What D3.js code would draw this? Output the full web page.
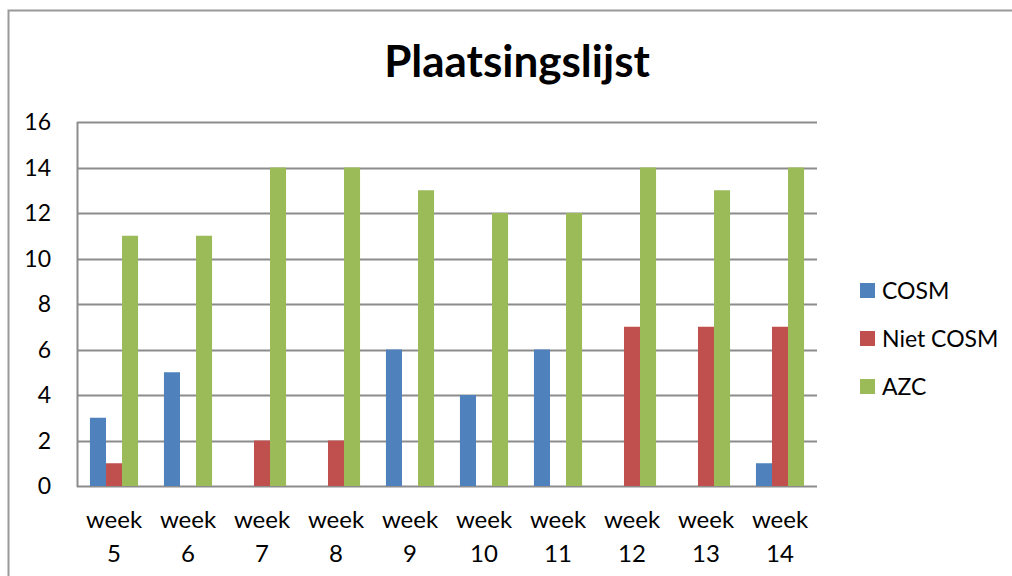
<!DOCTYPE html>
<html>
<head>
<meta charset="utf-8">
<script src="https://cdn.jsdelivr.net/npm/d3@7"></script>
<style>
  body { margin: 0; background: #fff; }
  text { font-family: Lato, "Open Sans", sans-serif; fill: #000; }
</style>
</head>
<body>
<svg id="chart" width="1012" height="576"></svg>
<script>
const weeks = ["week 5", "week 6", "week 7", "week 8", "week 9", "week 10", "week 11", "week 12", "week 13", "week 14"];
const seriesNames = ["COSM", "Niet COSM", "AZC"];
const cosm = [3, 5, 0, 0, 6, 4, 6, 0, 0, 1];
const nietCosm = [1, 0, 2, 2, 0, 0, 0, 7, 7, 7];
const azc = [11, 11, 14, 14, 13, 12, 12, 14, 13, 14];
const yTicks = [0, 2, 4, 6, 8, 10, 12, 14, 16];
const colors = ["#4F81BD", "#C0504D", "#9BBB59"];

const svg = d3.select("#chart");
const plot = { left: 77, right: 817, top: 122, bottom: 486 };

// outer chart frame
svg.append("rect")
  .attr("x", 8.5).attr("y", 10.5)
  .attr("width", 1100).attr("height", 700)
  .attr("fill", "none").attr("stroke", "#999").attr("stroke-width", 2);

svg.append("text")
  .attr("x", 517).attr("y", 77)
  .attr("text-anchor", "middle")
  .attr("font-size", 44).attr("font-weight", "bold")
  .text("Plaatsingslijst");

const x = d3.scaleBand().domain(weeks).range([plot.left, plot.right]).paddingInner(0.35).paddingOuter(0.175);
const xs = d3.scaleBand().domain(seriesNames).range([0, x.bandwidth()]);
const y = d3.scaleLinear().domain([0, 16]).range([plot.bottom, plot.top]);

// gridlines
svg.append("g")
  .selectAll("line")
  .data(yTicks)
  .join("line")
  .attr("x1", plot.left).attr("x2", plot.right)
  .attr("y1", d => Math.round(y(d)) + 0.5).attr("y2", d => Math.round(y(d)) + 0.5)
  .attr("stroke", "#8c8c8c").attr("stroke-width", 2);

svg.append("line")
  .attr("x1", plot.left + 0.5).attr("x2", plot.left + 0.5)
  .attr("y1", plot.top).attr("y2", plot.bottom + 1)
  .attr("stroke", "#8c8c8c").attr("stroke-width", 2);

// y labels
svg.append("g")
  .selectAll("text")
  .data(yTicks)
  .join("text")
  .attr("x", 51).attr("y", d => y(d) + 8)
  .attr("text-anchor", "end")
  .attr("font-size", 23)
  .text(d => d);

const allSeries = [cosm, nietCosm, azc];
const bars = [];
weeks.forEach((w, i) => {
  seriesNames.forEach((s, j) => {
    bars.push({ week: w, series: s, value: allSeries[j][i], color: colors[j] });
  });
});

svg.append("g")
  .selectAll("rect")
  .data(bars.filter(d => d.value > 0))
  .join("rect")
  .attr("x", d => x(d.week) + xs(d.series))
  .attr("width", xs.bandwidth())
  .attr("y", d => y(d.value))
  .attr("height", d => y(0) - y(d.value))
  .attr("fill", d => d.color);

// x labels (two lines)
const xl = svg.append("g")
  .selectAll("text")
  .data(weeks)
  .join("text")
  .attr("text-anchor", "middle")
  .attr("font-size", 24);
xl.append("tspan")
  .attr("x", d => x(d) + x.bandwidth() / 2)
  .attr("y", 528)
  .text(d => d.split(" ")[0]);
xl.append("tspan")
  .attr("x", d => x(d) + x.bandwidth() / 2)
  .attr("y", 562)
  .text(d => d.split(" ")[1]);

// legend
const lg = svg.append("g")
  .selectAll("g")
  .data(seriesNames)
  .join("g")
  .attr("transform", (d, i) => `translate(860, ${283 + i * 48})`);
lg.append("rect")
  .attr("width", 15).attr("height", 15)
  .attr("fill", (d, i) => colors[i]);
lg.append("text")
  .attr("x", 22).attr("y", 16)
  .attr("font-size", 23)
  .text(d => d);
</script>
</body>
</html>
